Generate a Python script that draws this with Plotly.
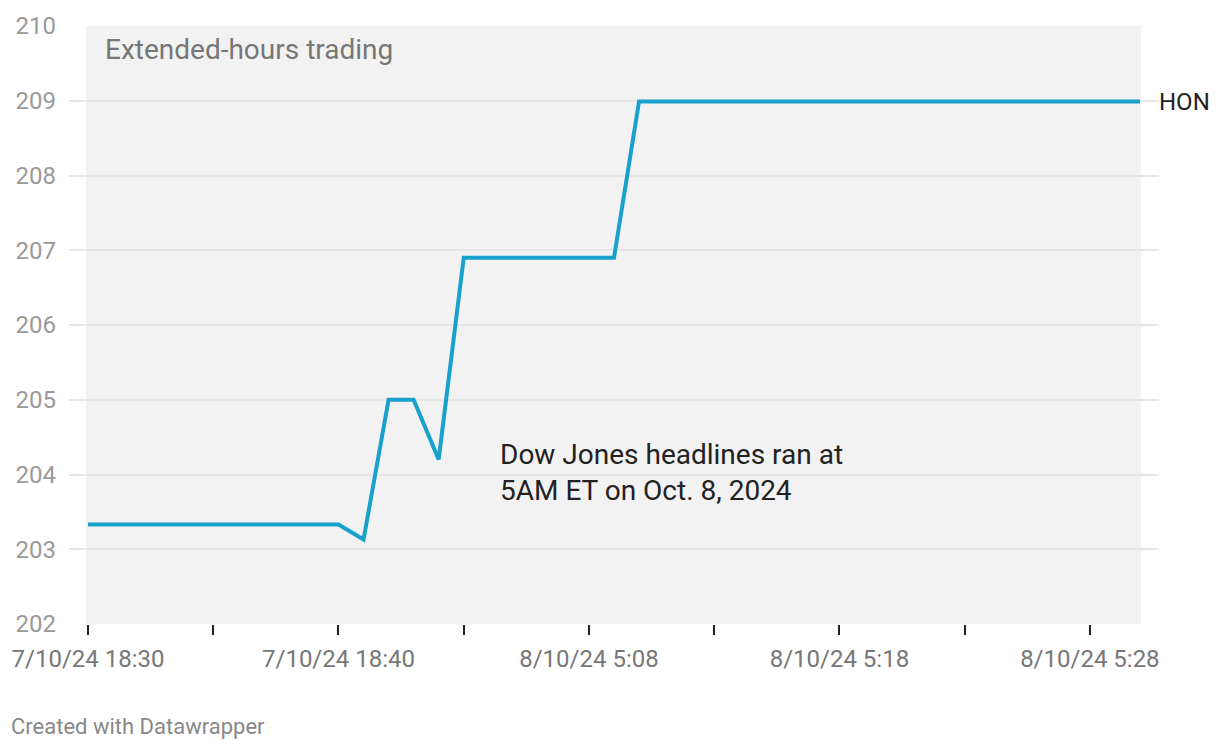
import plotly.graph_objects as go

categories = [
    "7/10/24 18:30", "7/10/24 18:31", "7/10/24 18:32", "7/10/24 18:33", "7/10/24 18:34",
    "7/10/24 18:35", "7/10/24 18:36", "7/10/24 18:37", "7/10/24 18:38", "7/10/24 18:39",
    "7/10/24 18:40", "7/10/24 18:41", "7/10/24 18:42", "7/10/24 18:43", "7/10/24 18:44",
    "8/10/24 5:03", "8/10/24 5:04", "8/10/24 5:05", "8/10/24 5:06", "8/10/24 5:07",
    "8/10/24 5:08", "8/10/24 5:09", "8/10/24 5:10", "8/10/24 5:11", "8/10/24 5:12",
    "8/10/24 5:13", "8/10/24 5:14", "8/10/24 5:15", "8/10/24 5:16", "8/10/24 5:17",
    "8/10/24 5:18", "8/10/24 5:19", "8/10/24 5:20", "8/10/24 5:21", "8/10/24 5:22",
    "8/10/24 5:23", "8/10/24 5:24", "8/10/24 5:25", "8/10/24 5:26", "8/10/24 5:27",
    "8/10/24 5:28", "8/10/24 5:29", "8/10/24 5:30",
]

hon = [
    203.33, 203.33, 203.33, 203.33, 203.33, 203.33, 203.33, 203.33, 203.33, 203.33,
    203.33, 203.13, 205.0, 205.0, 204.2, 206.9, 206.9, 206.9, 206.9, 206.9,
    206.9, 206.9, 208.99, 208.99, 208.99, 208.99, 208.99, 208.99, 208.99, 208.99,
    208.99, 208.99, 208.99, 208.99, 208.99, 208.99, 208.99, 208.99, 208.99, 208.99,
    208.99, 208.99, 208.99,
]

series_name = "HON"
y_ticks = [202, 203, 204, 205, 206, 207, 208, 209, 210]
x_tick_vals = categories[::5]
x_tick_text = [c if i % 2 == 0 else "" for i, c in enumerate(x_tick_vals)]

FONT = "Roboto"
W, H = 1220, 750
L, R, T, B = 67, 61, 24, 126
PW, PH = W - L - R, H - T - B


def px(xpix):
    return (xpix - L) / PW


def py(ypix):
    return (H - B - ypix) / PH


fig = go.Figure()
fig.add_trace(go.Scatter(
    x=categories, y=hon, mode="lines", name=series_name,
    line=dict(color="#18a1cd", width=4), hoverinfo="x+y",
))

n = len(categories)
fig.add_shape(type="rect", xref="x", yref="y", x0=-0.08, x1=n - 1 + 0.05,
              y0=202, y1=210, fillcolor="#f2f2f2", line=dict(width=0), layer="below")

fig.update_layout(
    width=W, height=H,
    margin=dict(l=L, r=R, t=T, b=B),
    paper_bgcolor="white", plot_bgcolor="white",
    showlegend=False,
    font=dict(family=FONT),
    xaxis=dict(
        type="category", range=[-0.76, n - 1 + 0.76],
        tickmode="array", tickvals=x_tick_vals, ticktext=x_tick_text,
        ticks="outside", ticklen=10, tickwidth=2, tickcolor="#222",
        ticklabelstandoff=3,
        showgrid=False, zeroline=False, showline=False,
        tickfont=dict(family=FONT, size=24, color="#777777"),
    ),
    yaxis=dict(
        range=[202, 210], tickmode="array", tickvals=y_ticks,
        ticktext=[str(v) for v in y_ticks],
        showgrid=True, gridcolor="#e6e6e6", gridwidth=2,
        zeroline=False, showline=False, ticks="",
        ticklabelstandoff=12,
        tickfont=dict(family=FONT, size=24, color="#9a9a9a"),
    ),
)

fig.add_annotation(xref="paper", yref="paper", x=px(101), y=py(48),
                   text="Extended-hours trading", showarrow=False,
                   xanchor="left", yanchor="middle",
                   font=dict(family=FONT, size=28, color="#777777"))
fig.add_annotation(xref="paper", yref="paper", x=px(497), y=py(472),
                   text="Dow Jones headlines ran at<br>5AM ET on Oct. 8, 2024", showarrow=False,
                   xanchor="left", yanchor="middle", align="left",
                   font=dict(family=FONT, size=28, color="#222222"))
fig.add_annotation(xref="paper", yref="y", x=px(1157), y=hon[-1],
                   text=series_name, showarrow=False,
                   xanchor="left", yanchor="middle",
                   font=dict(family=FONT, size=24, color="#222222"))
fig.add_annotation(xref="paper", yref="paper", x=px(7), y=py(727),
                   text="Created with Datawrapper", showarrow=False,
                   xanchor="left", yanchor="middle",
                   font=dict(family=FONT, size=22, color="#888888"))

fig.write_html("out.html")
